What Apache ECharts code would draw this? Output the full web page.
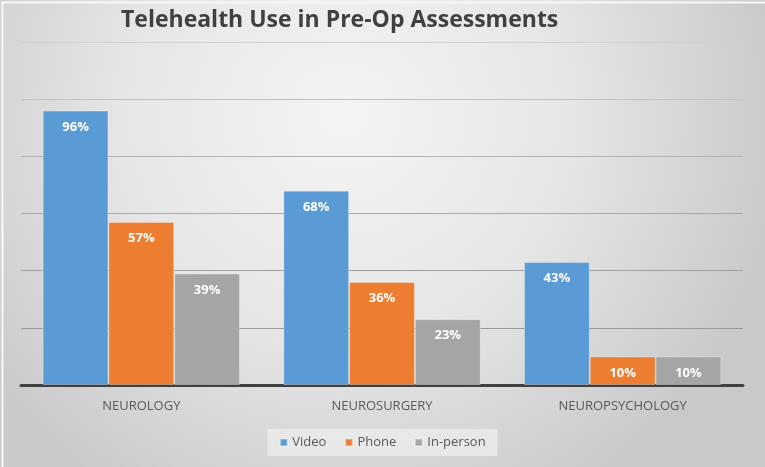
<!DOCTYPE html>
<html>
<head>
<meta charset="utf-8">
<script src="https://cdn.jsdelivr.net/npm/echarts@6/dist/echarts.min.js"></script>
<style>
html,body{margin:0;padding:0;}
#chart{width:765px;height:467px;}
</style>
</head>
<body>
<div id="chart"></div>
<script>
var categories = ['NEUROLOGY', 'NEUROSURGERY', 'NEUROPSYCHOLOGY'];
var seriesNames = ['Video', 'Phone', 'In-person'];
var videoValues = [96, 68, 43];
var phoneValues = [57, 36, 10];
var inPersonValues = [39, 23, 10];
var colors = ['#5b9bd5', '#ed7d31', '#a5a5a5'];

var chart = echarts.init(document.getElementById('chart'));
var font = '"Open Sans", Lato, sans-serif';

function makeSeries(name, data, color) {
  return {
    name: name,
    type: 'bar',
    data: data,
    barGap: '0%',
    barCategoryGap: '18%',
    itemStyle: { color: color, borderColor: 'rgba(255,255,255,0.3)', borderWidth: 1 },
    label: {
      show: true,
      position: 'insideTop',
      distance: 10,
      formatter: '{c}%',
      color: '#ffffff',
      fontWeight: 'bold',
      fontSize: 13,
      fontFamily: font
    }
  };
}

chart.setOption({
  animation: false,
  backgroundColor: {
    type: 'radial', x: 0.45, y: 0.25, r: 0.95,
    colorStops: [
      { offset: 0, color: '#f4f4f4' },
      { offset: 0.5, color: '#e6e6e6' },
      { offset: 1, color: '#c9c9c9' }
    ]
  },
  graphic: [{
    type: 'rect',
    left: 0, top: 0,
    shape: { width: 764, height: 466 },
    style: { fill: 'none', stroke: '#f7f7f7', lineWidth: 2 },
    silent: true
  }],
  title: {
    text: 'Telehealth Use in Pre-Op Assessments',
    left: 116,
    top: 4,
    textStyle: { fontFamily: font, fontWeight: 'bold', fontSize: 23, color: '#404040' }
  },
  legend: {
    data: seriesNames,
    bottom: 11,
    left: 'center',
    icon: 'rect',
    itemWidth: 7,
    itemHeight: 7,
    itemGap: 18,
    backgroundColor: 'rgba(240,240,240,0.7)',
    padding: [7, 12],
    textStyle: { fontFamily: font, fontSize: 13, color: '#595959' }
  },
  grid: { left: 21, right: 22, top: 42, bottom: 82 },
  xAxis: {
    type: 'category',
    data: categories,
    axisTick: { show: false },
    axisLine: { lineStyle: { color: '#404040', width: 3 } },
    axisLabel: { fontFamily: font, fontSize: 13, color: '#595959', margin: 15 }
  },
  yAxis: {
    type: 'value',
    min: 0,
    max: 120,
    interval: 20,
    axisLabel: { show: false },
    axisLine: { show: false },
    axisTick: { show: false },
    splitLine: { lineStyle: { color: ['#9a9a9a', '#9a9a9a', '#a0a0a0', '#a8a8a8', '#b4b4b4', '#c2c2c2', '#d0d0d0'], width: 1 } }
  },
  color: colors,
  series: [
    makeSeries(seriesNames[0], videoValues, colors[0]),
    makeSeries(seriesNames[1], phoneValues, colors[1]),
    makeSeries(seriesNames[2], inPersonValues, colors[2])
  ]
});
</script>
</body>
</html>
